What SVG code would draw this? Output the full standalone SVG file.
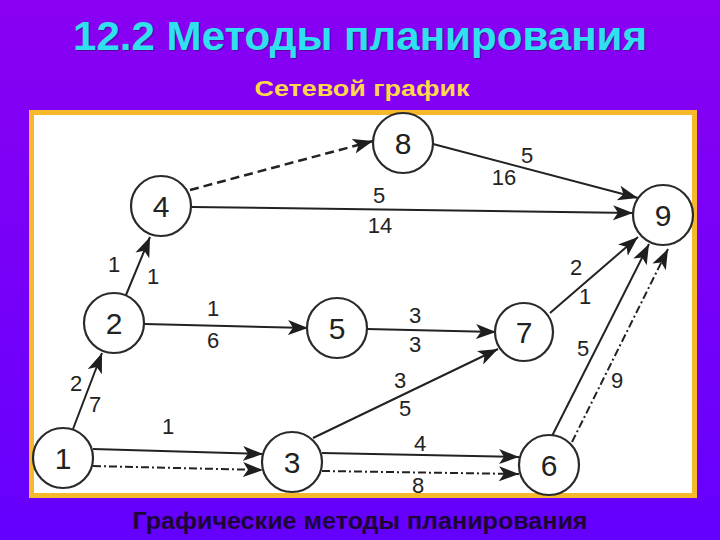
<svg xmlns="http://www.w3.org/2000/svg" width="720" height="540" viewBox="0 0 720 540">
<defs>
<linearGradient id="bg" x1="0" y1="0" x2="0" y2="1">
<stop offset="0" stop-color="#8a00f2"/>
<stop offset="1" stop-color="#6400fe"/>
</linearGradient>
<marker id="ah" markerUnits="userSpaceOnUse" markerWidth="24" markerHeight="18" refX="20" refY="8" orient="auto" viewBox="0 0 24 18">
<path d="M0,0.5 L20,8 L0,15.5 L5,8 z" fill="#1e1e1e"/>
</marker>
<style>
.node circle{fill:#fff;stroke:#2a2a2a;stroke-width:2.2}
.node text{font-family:"Liberation Sans",Arial,sans-serif;font-size:30px;fill:#222;text-anchor:middle}
.e{stroke:#222;stroke-width:2;fill:none;marker-end:url(#ah)}
.dd{stroke-dasharray:8,3,2,3}
.da{stroke-dasharray:9,5;stroke-width:2.5}
.lb{font-family:"Liberation Sans",Arial,sans-serif;font-size:22px;fill:#222;text-anchor:middle}
</style>
</defs>
<rect width="720" height="540" fill="url(#bg)"/>
<text x="361" y="51" font-family="'Liberation Sans',Arial,sans-serif" font-weight="bold" font-size="40" fill="#3a1060" text-anchor="middle" textLength="574" lengthAdjust="spacingAndGlyphs" opacity="0.6">12.2 Методы планирования</text>
<text x="360" y="50" font-family="'Liberation Sans',Arial,sans-serif" font-weight="bold" font-size="40" fill="#2fe0f0" text-anchor="middle" textLength="574" lengthAdjust="spacingAndGlyphs">12.2 Методы планирования</text>
<text x="362" y="96" font-family="'Liberation Sans',Arial,sans-serif" font-weight="bold" font-size="22" fill="#ffd84a" text-anchor="middle" textLength="215" lengthAdjust="spacingAndGlyphs">Сетевой график</text>
<rect x="31.5" y="112.5" width="663" height="383" fill="#fff" stroke="#f6b92c" stroke-width="5"/>
<text x="360" y="529" font-family="'Liberation Sans',Arial,sans-serif" font-weight="bold" font-size="23" fill="#1c0638" text-anchor="middle" textLength="455" lengthAdjust="spacingAndGlyphs">Графические методы планирования</text>
<g id="connectors">
<line class="e" x1="73" y1="429" x2="102" y2="353"/>
<line class="e" x1="126" y1="295" x2="150" y2="237"/>
<line class="e" x1="145" y1="324" x2="308" y2="328"/>
<line class="e" x1="93" y1="449" x2="263" y2="454"/>
<line class="e dd" x1="93" y1="466" x2="263" y2="470"/>
<line class="e" x1="322" y1="453" x2="519" y2="457"/>
<line class="e dd" x1="322" y1="471" x2="519" y2="474"/>
<line class="e" x1="313" y1="438" x2="498" y2="349"/>
<line class="e" x1="367" y1="329" x2="496" y2="332"/>
<line class="e" x1="550" y1="313" x2="638" y2="237"/>
<line class="e" x1="552" y1="436" x2="649" y2="244"/>
<line class="e dd" x1="572" y1="442" x2="668" y2="249"/>
<line class="e da" x1="190" y1="190" x2="373" y2="141"/>
<line class="e" x1="192" y1="207" x2="633" y2="213"/>
<line class="e" x1="433" y1="144" x2="638" y2="198"/>
<text class="lb" x="76" y="391">2</text>
<text class="lb" x="95" y="412">7</text>
<text class="lb" x="114" y="272">1</text>
<text class="lb" x="153" y="284">1</text>
<text class="lb" x="213" y="316">1</text>
<text class="lb" x="213" y="348">6</text>
<text class="lb" x="168" y="434">1</text>
<text class="lb" x="420" y="451">4</text>
<text class="lb" x="418" y="493">8</text>
<text class="lb" x="400" y="388">3</text>
<text class="lb" x="405" y="416">5</text>
<text class="lb" x="415" y="323">3</text>
<text class="lb" x="415" y="352">3</text>
<text class="lb" x="576" y="275">2</text>
<text class="lb" x="585" y="304">1</text>
<text class="lb" x="583" y="356">5</text>
<text class="lb" x="617" y="388">9</text>
<text class="lb" x="379" y="203">5</text>
<text class="lb" x="380" y="233">14</text>
<text class="lb" x="527" y="163">5</text>
<text class="lb" x="504" y="185">16</text>
</g>
<g id="n1" class="node"><circle cx="63" cy="458" r="30"/><text x="63" y="469">1</text></g>
<g id="n2" class="node"><circle cx="114" cy="323" r="30"/><text x="114" y="334">2</text></g>
<g id="n3" class="node"><circle cx="292" cy="462" r="30"/><text x="292" y="473">3</text></g>
<g id="n4" class="node"><circle cx="161" cy="206" r="30"/><text x="161" y="217">4</text></g>
<g id="n5" class="node"><circle cx="337" cy="328" r="30"/><text x="337" y="339">5</text></g>
<g id="n6" class="node"><circle cx="549" cy="465" r="30"/><text x="549" y="476">6</text></g>
<g id="n7" class="node"><circle cx="524" cy="332" r="29"/><text x="524" y="343">7</text></g>
<g id="n8" class="node"><circle cx="403" cy="143" r="30"/><text x="403" y="154">8</text></g>
<g id="n9" class="node"><circle cx="663" cy="215" r="30"/><text x="663" y="226">9</text></g>
</svg>
